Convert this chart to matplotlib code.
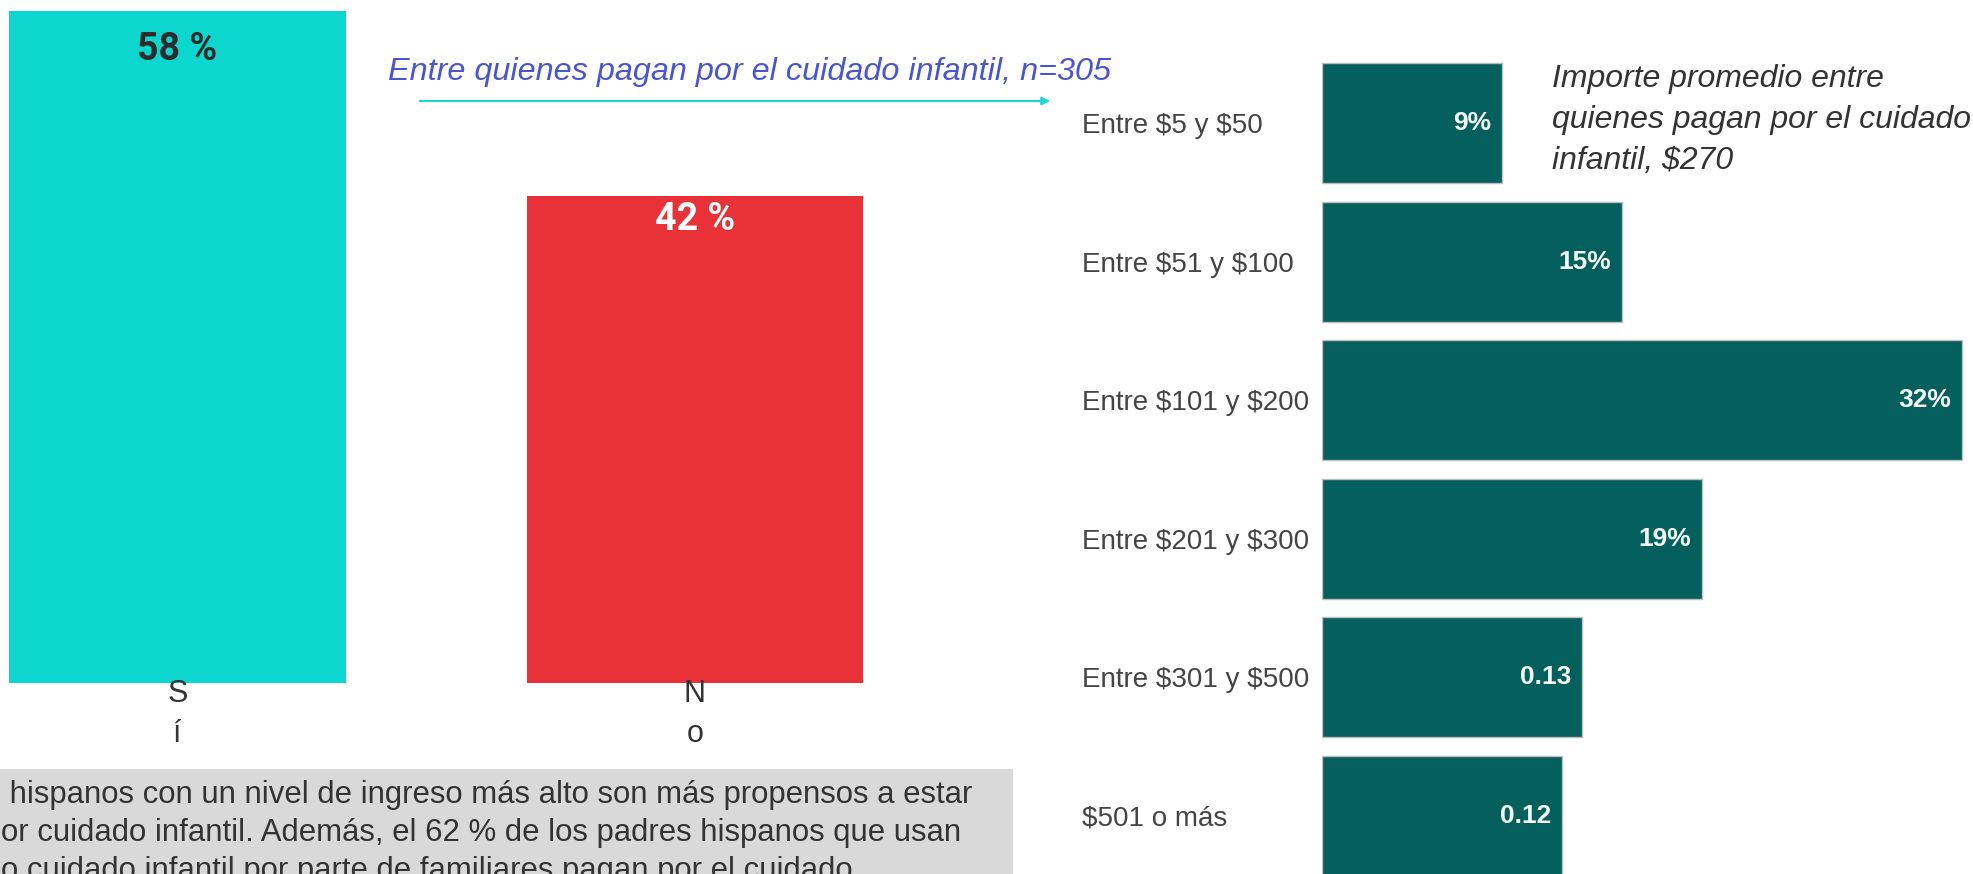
import matplotlib.pyplot as plt
from matplotlib.patches import Rectangle, FancyArrowPatch

# datos: ¿paga por el cuidado infantil?
respuestas = ["Sí", "No"]
pct_respuestas = [58, 42]
etiquetas_respuestas = ["58 %", "42 %"]

# datos: importe mensual entre quienes pagan
rangos = ["Entre $5 y $50", "Entre $51 y $100", "Entre $101 y $200",
          "Entre $201 y $300", "Entre $301 y $500", "$501 o más"]
proporcion = [0.09, 0.15, 0.32, 0.19, 0.13, 0.12]
etiquetas_rangos = ["9%", "15%", "32%", "19%", "0.13", "0.12"]

titulo_n = "Entre quienes pagan por el cuidado infantil, n=305"
nota_promedio = "Importe promedio entre\nquienes pagan por el cuidado\ninfantil, $270"
texto_caja = (" hispanos con un nivel de ingreso más alto son más propensos a estar\n"
              "or cuidado infantil. Además, el 62 % de los padres hispanos que usan\n"
              "o cuidado infantil por parte de familiares pagan por el cuidado")

plt.rcParams['font.family'] = ['Liberation Sans', 'DejaVu Sans']

W, H = 1974, 874
fig = plt.figure(figsize=(W / 100, H / 100), dpi=100)

# caja gris de texto (abajo a la izquierda), cortada por el borde como en el original
fig.add_artist(Rectangle((0, 0), 1013 / W, (H - 769) / H, transform=fig.transFigure,
                         facecolor='#D9D9D9', edgecolor='none', zorder=0))
fig.text(1 / W, 1 - 833 / H, texto_caja, fontsize=22.4, color='#333333',
         ha='left', va='center', linespacing=1.36, zorder=1)

# --- barras verticales Sí / No
ax1 = fig.add_axes([6.7 / W, (H - 683) / H, 864.2 / W, 672 / H])
colores = ['#0DD6CE', '#E83238']
ax1.bar(range(len(respuestas)), pct_respuestas, width=0.651, color=colores)
ax1.set_xlim(-0.33, 1.34)
ax1.set_ylim(0, 58)
ax1.set_xticks(range(len(respuestas)))
ax1.set_xticklabels(["\n".join(list(r)) for r in respuestas], fontsize=22,
                    color='#333333', linespacing=1.45)
ax1.tick_params(axis='x', length=0, pad=-3)
ax1.set_yticks([])
for s in ax1.spines.values():
    s.set_visible(False)
ax1.patch.set_alpha(0)

col_txt = ['#2B2B2B', 'white']
desp = [-28, -17]
for i, v in enumerate(pct_respuestas):
    ax1.annotate(etiquetas_respuestas[i], (i, v), xytext=(0, desp[i]),
                 textcoords='offset points', ha='center', va='center',
                 fontsize=27, fontweight='bold', color=col_txt[i],
                 family=['Roboto', 'Liberation Sans'])

# --- barras horizontales de importe
ax2 = fig.add_axes([1322 / W, -11 / H, 650 / W, 831 / H])
y = range(len(rangos))
ax2.barh(y, proporcion, height=0.863, color='#055F5D', edgecolor='#BDBDBD', linewidth=1)
ax2.set_xlim(0, 0.325)
ax2.set_ylim(5.5, -0.5)
ax2.set_yticks(list(y))
ax2.set_yticklabels(rangos, fontsize=20, color='#444444', ha='left', parse_math=False)
ax2.tick_params(axis='y', length=0, pad=172.8)
ax2.set_xticks([])
for s in ax2.spines.values():
    s.set_visible(False)
ax2.patch.set_alpha(0)

for i, v in enumerate(proporcion):
    ax2.annotate(etiquetas_rangos[i], (v, i), xytext=(-8, 0), textcoords='offset points',
                 ha='right', va='center', fontsize=19, fontweight='bold', color='#F4FBF8')

# --- anotaciones
fig.text(388 / W, 1 - 72 / H, titulo_n, fontsize=23.3, style='italic',
         color='#4A55D0', ha='left', va='center')
fig.add_artist(FancyArrowPatch((417 / W, 1 - 101 / H), (1053 / W, 1 - 101 / H),
                               transform=fig.transFigure, arrowstyle='-|>',
                               mutation_scale=12, color='#1DD6CF', lw=1.5))
fig.text(1552 / W, 1 - 120 / H, nota_promedio, fontsize=23, style='italic',
         color='#333333', ha='left', va='center', linespacing=1.46, parse_math=False)

fig.savefig("out.png", dpi=100)
